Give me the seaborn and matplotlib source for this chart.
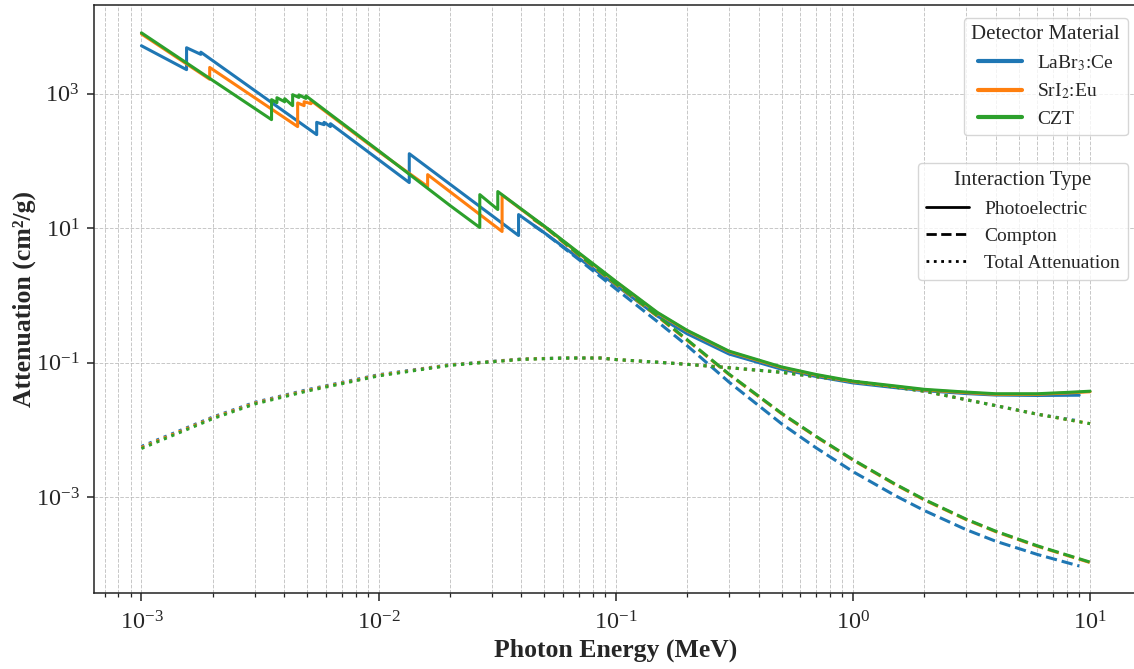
import numpy as np
import pandas as pd
import matplotlib
matplotlib.use("Agg")
import matplotlib.pyplot as plt
from matplotlib.lines import Line2D
from matplotlib.ticker import NullLocator
import seaborn as sns

# ---------------- data (energy in MeV, attenuation in cm^2/g) ----------------
materials = ["LaBr$_3$:Ce", "SrI$_2$:Eu", "CZT"]
interactions = ["Photoelectric", "Compton", "Total Attenuation"]
colors = ["#1f77b4", "#ff7f0e", "#2ca02c"]

# LaBr3:Ce
labr_photo_e = [1e-3, 1.55e-3, 1.55e-3, 1.78e-3, 1.78e-3, 5.483e-3, 5.483e-3,
                5.891e-3, 5.891e-3, 6.266e-3, 6.266e-3, 13.47e-3, 13.47e-3,
                38.92e-3, 38.92e-3, 0.05, 0.07, 0.1, 0.15, 0.2, 0.3, 0.5, 0.7,
                1.0, 1.5, 2.0, 3.0, 4.0, 6.0, 9.0]
labr_photo_v = [5170, 2280, 4830, 3850, 4150, 246, 375, 346, 375, 324, 358,
                47.6, 128, 7.76, 15.9, 8.51, 3.55, 1.42, 0.489, 0.268, 0.134,
                0.0795, 0.0619, 0.0497, 0.0423, 0.0381, 0.0345, 0.0328, 0.0323,
                0.0326]
labr_compt_e = [0.045, 0.05, 0.07, 0.1, 0.15, 0.2, 0.3, 0.5, 0.7, 1.0, 1.5,
                2.0, 3.0, 4.0, 6.0, 9.0]
labr_compt_v = [10.96, 8.51, 3.39, 1.25, 0.405, 0.178, 0.0513, 0.01228,
                5.36e-3, 2.38e-3, 1.056e-3, 6.27e-4, 3.26e-4, 2.19e-4,
                1.39e-4, 9.37e-5]
labr_total_e = [1e-3, 2e-3, 3e-3, 5e-3, 0.01, 0.02, 0.04, 0.06, 0.086, 0.1,
                0.15, 0.2, 0.3, 0.5, 1.0, 2.0, 4.0, 6.0, 9.0]
labr_total_v = [5.64e-3, 0.01545, 0.0255, 0.0394, 0.0658, 0.0927, 0.1127,
                0.1167, 0.1167, 0.1107, 0.101, 0.094, 0.0837, 0.0715, 0.0524,
                0.0374, 0.0228, 0.0170, 0.0135]

# SrI2:Eu
sri_photo_e = [1e-3, 1.94e-3, 1.94e-3, 4.557e-3, 4.557e-3, 4.852e-3, 4.852e-3,
               5.188e-3, 5.188e-3, 0.01, 16.1e-3, 16.1e-3, 33.17e-3, 33.17e-3,
               0.05, 0.07, 0.1, 0.15, 0.2, 0.3, 0.5, 0.7, 1.0, 1.5, 2.0, 3.0,
               4.0, 6.0, 8.0, 10.0]
sri_photo_v = [7750, 1640, 2460, 324, 728, 664, 760, 710, 790, 138, 41.5, 62.5,
               8.9, 31.0, 10.5, 4.18, 1.59, 0.544, 0.295, 0.145, 0.0843, 0.065,
               0.0517, 0.0440, 0.0391, 0.0356, 0.0336, 0.0336, 0.0352, 0.0367]
sri_compt_e = [0.045, 0.05, 0.07, 0.1, 0.15, 0.2, 0.3, 0.5, 0.7, 1.0, 1.5,
               2.0, 3.0, 4.0, 6.0, 8.0, 10.0]
sri_compt_v = [13.4, 10.5, 3.94, 1.46, 0.485, 0.214, 0.0665, 0.01733, 7.83e-3,
               3.54e-3, 1.544e-3, 9.01e-4, 4.6e-4, 3.04e-4, 1.84e-4, 1.345e-4,
               1.054e-4]
sri_total_e = [1e-3, 2e-3, 3e-3, 5e-3, 0.01, 0.02, 0.04, 0.06, 0.086, 0.1,
               0.15, 0.2, 0.3, 0.5, 1.0, 2.0, 4.0, 6.0, 10.0]
sri_total_v = [5.45e-3, 0.01505, 0.0248, 0.0385, 0.0645, 0.0917, 0.1120,
               0.1165, 0.1167, 0.1107, 0.101, 0.094, 0.0837, 0.0715, 0.0524,
               0.0374, 0.0228, 0.0170, 0.0123]

# CZT
czt_photo_e = [1e-3, 3.537e-3, 3.537e-3, 3.727e-3, 3.727e-3, 4.018e-3,
               4.018e-3, 4.341e-3, 4.341e-3, 4.612e-3, 4.612e-3, 4.939e-3,
               4.939e-3, 0.01, 0.02, 26.71e-3, 26.71e-3, 31.81e-3, 31.81e-3,
               0.05, 0.07, 0.1, 0.15, 0.2, 0.3, 0.5, 0.7, 1.0, 1.5, 2.0, 3.0,
               4.0, 6.0, 8.0, 10.0]
czt_photo_v = [8050, 411, 815, 735, 872, 760, 843, 664, 967, 880, 960, 850,
               930, 142, 21.7, 10.2, 31.5, 18.9, 35.0, 10.7, 4.27, 1.62, 0.555,
               0.301, 0.148, 0.086, 0.0663, 0.0528, 0.0449, 0.0399, 0.0363,
               0.0343, 0.0343, 0.0359, 0.0374]
czt_compt_e = [0.045, 0.05, 0.07, 0.1, 0.15, 0.2, 0.3, 0.5, 0.7, 1.0, 1.5,
               2.0, 3.0, 4.0, 6.0, 8.0, 10.0]
czt_compt_v = [13.7, 10.7, 4.02, 1.49, 0.495, 0.2184, 0.0675, 0.01759, 7.95e-3,
               3.59e-3, 1.567e-3, 9.15e-4, 4.67e-4, 3.09e-4, 1.87e-4,
               1.365e-4, 1.07e-4]
czt_total_e = [1e-3, 2e-3, 3e-3, 5e-3, 0.01, 0.02, 0.04, 0.06, 0.086, 0.1,
               0.15, 0.2, 0.3, 0.5, 1.0, 2.0, 4.0, 6.0, 10.0]
czt_total_v = [5.25e-3, 0.0146, 0.0241, 0.0376, 0.0632, 0.0907, 0.1112,
               0.1163, 0.1167, 0.1107, 0.101, 0.094, 0.0837, 0.0715, 0.0524,
               0.0374, 0.0228, 0.0170, 0.0123]

series = {
    materials[0]: [(labr_photo_e, labr_photo_v), (labr_compt_e, labr_compt_v),
                   (labr_total_e, labr_total_v)],
    materials[1]: [(sri_photo_e, sri_photo_v), (sri_compt_e, sri_compt_v),
                   (sri_total_e, sri_total_v)],
    materials[2]: [(czt_photo_e, czt_photo_v), (czt_compt_e, czt_compt_v),
                   (czt_total_e, czt_total_v)],
}

rows = []
for mat in materials:
    for kind, (e, v) in zip(interactions, series[mat]):
        for ei, vi in zip(e, v):
            rows.append({"energy": ei, "value": vi, "material": mat,
                         "interaction": kind})
df = pd.DataFrame(rows)

# ---------------- styling ----------------
sns.set_style("ticks")
plt.rcParams["font.family"] = ["Liberation Serif", "DejaVu Serif"]
plt.rcParams["mathtext.fontset"] = "stix"

W, H = 1134, 669
fig = plt.figure(figsize=(W / 100, H / 100), dpi=100)
ax = fig.add_axes([94 / W, 76 / H, 1043.5 / W, 588 / H])

dash_map = {"Photoelectric": "", "Compton": (3.7, 1.6),
            "Total Attenuation": (1, 1.65)}

sns.lineplot(data=df, x="energy", y="value", hue="material", style="interaction",
             hue_order=materials, style_order=interactions,
             palette=colors, dashes=dash_map, estimator=None, sort=False,
             linewidth=2.2, legend=False, ax=ax)

ax.set_xscale("log")
ax.set_yscale("log")
ax.set_xlim(10 ** -3.2, 10 ** 1.2)
ax.set_ylim(10 ** -4.43, 10 ** 4.32)
ax.set_yticks([1e-3, 1e-1, 1e1, 1e3])
ax.yaxis.set_minor_locator(NullLocator())

ax.grid(True, which="both", linestyle="--", linewidth=0.7, color="#b8b8b8",
        alpha=0.8)
for sp in ax.spines.values():
    sp.set_color("#222222")
    sp.set_linewidth(1.1)
ax.tick_params(axis="both", which="major", labelsize=17.5, color="#222222",
               length=5.4, width=1.1, pad=5)
ax.tick_params(axis="x", which="major", pad=7.5)
ax.tick_params(axis="both", which="minor", color="#222222", length=3.0,
               width=0.9)

ax.set_xlabel("Photon Energy (MeV)", fontsize=18.5, fontweight="bold",
              labelpad=3)
ax.set_ylabel("Attenuation (cm\u00b2/g)", fontsize=18.5, fontweight="bold",
              labelpad=0)

mat_handles = [Line2D([0], [0], color=c, lw=3) for c in colors]
leg1 = ax.legend(mat_handles, materials, title="Detector Material",
                 loc="upper right", bbox_to_anchor=(1.0, 0.995), fontsize=14,
                 title_fontsize=15, labelspacing=0.45, handlelength=2.25)
ax.add_artist(leg1)

style_handles = [Line2D([0], [0], color="black", lw=2, linestyle="-"),
                 Line2D([0], [0], color="black", lw=2, linestyle="--"),
                 Line2D([0], [0], color="black", lw=2, linestyle=":")]
ax.legend(style_handles, interactions, title="Interaction Type",
          loc="upper right", bbox_to_anchor=(1.0, 0.747), fontsize=14,
          title_fontsize=15, labelspacing=0.5, handlelength=2.2)

fig.savefig("out.png", dpi=100)
